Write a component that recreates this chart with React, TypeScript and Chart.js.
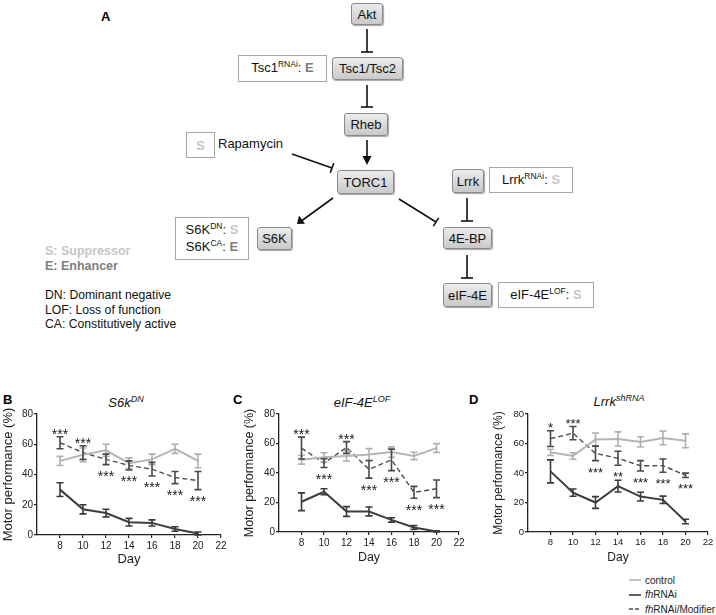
import React, { useEffect, useRef } from 'react';
import { Chart, registerables } from 'chart.js';

Chart.register(...registerables);

const FONT = '"Liberation Sans", Arial, Helvetica, sans-serif';

// ---------- data ----------
const days = [8, 10, 12, 14, 16, 18, 20];
const xTickValues = [8, 10, 12, 14, 16, 18, 20, 22];
const yTickValues = [0, 20, 40, 60, 80];
const seriesNames = ['control', 'fhRNAi', 'fhRNAi/Modifier'];

// Panel B: S6k^DN
const bControl = [49, 53, 56, 47.5, 50, 57, 49];
const bControlErr = [3, 4.5, 4, 3.5, 3.5, 3, 4.5];
const bFh = [30, 17, 14.5, 8.5, 8, 4, 1];
const bFhErr = [4.5, 3, 2.5, 2.5, 2, 1.5, 1];
const bMod = [61, 54.5, 50, 46, 43.5, 38, 36];
const bModErr = [4, 4.5, 3.5, 3, 4.5, 4, 6];
const bStars = ['***', '***', '***', '***', '***', '***', '***'];
const bStarSide = ['above', 'above', 'below', 'below', 'below', 'below', 'below'];

// Panel C: eIF-4E^LOF
const cControl = [49, 50.7, 51.6, 52.5, 54.2, 51.6, 56.9];
const cControlErr = [3, 3, 3.5, 4, 3.5, 2.5, 3];
const cFh = [20.5, 27.3, 13.9, 13.9, 8.2, 3.1, 0.4];
const cFhErr = [6, 2, 3.3, 3, 1.5, 1.3, 0.4];
const cMod = [56.9, 46.7, 57.3, 42.5, 48.9, 26.9, 29.3];
const cModErr = [7.4, 3, 4, 6, 7.3, 4, 6];
const cStars = ['***', '***', '***', '***', '***', '***', '***'];
const cStarSide = ['above', 'below', 'above', 'below', 'below', 'below', 'below'];

// Panel D: Lrrk^shRNA
const dControl = [54, 51.5, 62.7, 63.1, 61.1, 63.8, 61.8];
const dControlErr = [2.1, 2.2, 4.4, 4.8, 3.5, 4.6, 4.7];
const dFh = [41.1, 26.7, 20, 31.1, 24, 21.8, 7.1];
const dFhErr = [7.8, 2.5, 4, 4, 3, 2.5, 1.5];
const dMod = [63.3, 67, 53.3, 50, 44.9, 45, 38.4];
const dModErr = [5.3, 4.5, 4.9, 4.7, 3.5, 4.5, 1.5];
const dStars = ['*', '***', '***', '**', '***', '***', '***'];
const dStarSide = ['above', 'above', 'below', 'below', 'below', 'below', 'below'];

const COLORS = { control: '#b5b5b5', fh: '#3d3d3d', mod: '#4d4d4d' };

// ---------- plugins ----------
const errorBarPlugin = {
  id: 'errorBars',
  afterDatasetsDraw(chart: any) {
    const { ctx, scales } = chart;
    const x = scales.x;
    const y = scales.y;
    chart.data.datasets.forEach((ds: any) => {
      if (!ds.errors) return;
      ctx.save();
      ctx.strokeStyle = ds.errColor;
      ctx.lineWidth = 1.6;
      ctx.setLineDash([]);
      ds.data.forEach((p: any, i: number) => {
        const e = ds.errors[i];
        const px = x.getPixelForValue(p.x);
        const top = y.getPixelForValue(p.y + e);
        const bot = y.getPixelForValue(Math.max(p.y - e, 0));
        ctx.beginPath();
        ctx.moveTo(px, top);
        ctx.lineTo(px, bot);
        ctx.moveTo(px - 3.5, top);
        ctx.lineTo(px + 3.5, top);
        ctx.moveTo(px - 3.5, bot);
        ctx.lineTo(px + 3.5, bot);
        ctx.stroke();
      });
      ctx.restore();
    });
  },
};

const starsPlugin = {
  id: 'stars',
  afterDatasetsDraw(chart: any, _args: any, opts: any) {
    if (!opts || !opts.labels) return;
    const { ctx, scales } = chart;
    const ds = chart.data.datasets[opts.index];
    ctx.save();
    ctx.font = `${opts.size}px ${FONT}`;
    ctx.fillStyle = '#1a1a1a';
    ctx.textAlign = 'center';
    ctx.textBaseline = 'alphabetic';
    opts.labels.forEach((lab: string, i: number) => {
      const p = ds.data[i];
      const e = ds.errors[i];
      const px = scales.x.getPixelForValue(p.x);
      let center;
      if (opts.sides[i] === 'above') center = scales.y.getPixelForValue(p.y + e) - 6;
      else center = scales.y.getPixelForValue(p.y - e) + 8.5;
      ctx.fillText(lab, px, center + 0.57 * opts.size);
    });
    ctx.restore();
  },
};

type PanelProps = {
  left: number; top: number; width: number; height: number;
  padRight: number; padTop: number;
  yAxisWidth: number; xAxisHeight: number;
  tickSize: number; titleSize: number; yTitlePad: number; starSize: number;
  control: number[]; controlErr: number[];
  fh: number[]; fhErr: number[];
  mod: number[]; modErr: number[];
  stars: string[]; starSide: string[];
};

function pts(vals: number[]) {
  return days.map((d, i) => ({ x: d, y: vals[i] }));
}

function ChartPanel(p: PanelProps) {
  const ref = useRef<HTMLCanvasElement>(null);
  useEffect(() => {
    if (!ref.current) return;
    const axisColor = '#222';
    const chart = new Chart(ref.current, {
      type: 'line',
      data: {
        datasets: [
          {
            label: seriesNames[0], data: pts(p.control), borderColor: COLORS.control,
            borderWidth: 2, pointRadius: 0, tension: 0, errors: p.controlErr, errColor: '#b0b0b0',
          } as any,
          {
            label: seriesNames[2], data: pts(p.mod), borderColor: COLORS.mod,
            borderWidth: 1.4, borderDash: [5, 3], pointRadius: 0, tension: 0,
            errors: p.modErr, errColor: '#4a4a4a',
          } as any,
          {
            label: seriesNames[1], data: pts(p.fh), borderColor: COLORS.fh,
            borderWidth: 2, pointRadius: 0, tension: 0, errors: p.fhErr, errColor: '#3a3a3a',
          } as any,
        ],
      },
      options: {
        responsive: false,
        animation: false,
        events: [],
        layout: { padding: { left: 0, top: p.padTop, right: p.padRight, bottom: 0 } },
        plugins: {
          legend: { display: false },
          tooltip: { enabled: false },
          title: { display: false },
          stars: { index: 1, labels: p.stars, sides: p.starSide, size: p.starSize },
        } as any,
        scales: {
          x: {
            type: 'linear', min: 6, max: 22,
            afterBuildTicks: (axis: any) => { axis.ticks = xTickValues.map((v) => ({ value: v })); },
            afterFit: (s: any) => { s.height = p.xAxisHeight; },
            border: { display: true, color: axisColor, width: 1.3 },
            grid: { display: true, drawOnChartArea: false, drawTicks: true, tickLength: 3, color: axisColor, lineWidth: 1.2 },
            ticks: { color: '#222', font: { family: FONT, size: p.tickSize }, padding: 2, maxRotation: 0, autoSkip: false },
            title: { display: true, text: 'Day', color: '#222', font: { family: FONT, size: p.titleSize }, padding: 0 },
          },
          y: {
            type: 'linear', min: 0, max: 80,
            afterBuildTicks: (axis: any) => { axis.ticks = yTickValues.map((v) => ({ value: v })); },
            afterFit: (s: any) => { s.width = p.yAxisWidth; },
            border: { display: true, color: axisColor, width: 1.3 },
            grid: { display: true, drawOnChartArea: false, drawTicks: true, tickLength: 3, color: axisColor, lineWidth: 1.2 },
            ticks: { color: '#222', font: { family: FONT, size: p.tickSize }, padding: 1 },
            title: { display: true, text: 'Motor performance (%)', color: '#222', font: { family: FONT, size: p.titleSize }, padding: { top: p.yTitlePad, bottom: 0 } },
          },
        },
      } as any,
      plugins: [errorBarPlugin, starsPlugin],
    });
    return () => chart.destroy();
  }, []);
  return (
    <canvas
      ref={ref}
      width={p.width}
      height={p.height}
      style={{ position: 'absolute', left: p.left, top: p.top, width: p.width, height: p.height }}
    />
  );
}

// ---------- diagram helpers ----------
const T = (x: number, y: number, content: any, style: any = {}) => (
  <div style={{ position: 'absolute', left: x, top: y, whiteSpace: 'nowrap', ...style }}>{content}</div>
);

function GrayBox({ x, y, w, h, text }: { x: number; y: number; w: number; h: number; text: string }) {
  return (
    <div
      style={{
        position: 'absolute', left: x, top: y, width: w, height: h, boxSizing: 'border-box',
        border: '1px solid #8a8a8a', borderRadius: 3,
        background: 'linear-gradient(#ececec, #c9c9c9)',
        boxShadow: '1px 1px 1px rgba(0,0,0,0.35)',
        display: 'flex', alignItems: 'center', justifyContent: 'center',
        fontSize: 13, color: '#111',
      }}
    >
      {text}
    </div>
  );
}

function NoteBox({ x, y, w, h, children }: { x: number; y: number; w: number; h: number; children: any }) {
  return (
    <div
      style={{
        position: 'absolute', left: x, top: y, width: w, height: h, boxSizing: 'border-box',
        border: '1px solid #a8a8a8', background: '#fff',
        display: 'flex', flexDirection: 'column', alignItems: 'center', justifyContent: 'center',
        fontSize: 13, color: '#111', lineHeight: '15px',
      }}
    >
      {children}
    </div>
  );
}

const Sup = ({ t }: { t: string }) => (
  <span style={{ fontSize: 8.5, position: 'relative', top: -5 }}>{t}</span>
);
const S = () => <b style={{ color: '#c6c6c6' }}>S</b>;
const E = () => <b style={{ color: '#7d7d7d' }}>E</b>;

function Diagram() {
  return (
    <>
      {T(101, 9, 'A', { fontWeight: 'bold', fontSize: 13 })}
      <svg width={716} height={340} style={{ position: 'absolute', left: 0, top: 0 }}>
        <g stroke="#111" strokeWidth={1.6} fill="none">
          {/* Akt -| Tsc */}
          <line x1={367} y1={29} x2={367} y2={52} />
          <line x1={361} y1={52} x2={373} y2={52} />
          {/* Tsc -| Rheb */}
          <line x1={367} y1={85} x2={367} y2={107} />
          <line x1={361} y1={107} x2={373} y2={107} />
          {/* Rheb -> TORC1 */}
          <line x1={367} y1={140} x2={367} y2={157} />
          {/* Rapamycin -| TORC1 */}
          <line x1={292} y1={154} x2={332} y2={168} />
          <line x1={330.3} y1={172.7} x2={333.7} y2={163.3} />
          {/* TORC1 -> S6K */}
          <line x1={333} y1={198} x2={302} y2={220.5} />
          {/* TORC1 -| 4E-BP */}
          <line x1={399} y1={199} x2={436} y2={222} />
          <line x1={433.4} y1={226.2} x2={438.6} y2={217.8} />
          {/* Lrrk -| 4E-BP */}
          <line x1={467} y1={198} x2={467} y2={221} />
          <line x1={461} y1={221} x2={473} y2={221} />
          {/* 4E-BP -| eIF-4E */}
          <line x1={467} y1={255} x2={467} y2={278} />
          <line x1={461} y1={278} x2={473} y2={278} />
        </g>
        <polygon points="362.5,156 371.5,156 367,165" fill="#111" />
        <polygon points="297,224 299,215.5 305,223.7" fill="#111" />
      </svg>

      <GrayBox x={351} y={3} w={32} h={22} text="Akt" />
      <GrayBox x={332} y={57} w={71} h={23} text="Tsc1/Tsc2" />
      <GrayBox x={344} y={113} w={44} h={23} text="Rheb" />
      <GrayBox x={337} y={170} w={57} h={24} text="TORC1" />
      <GrayBox x={257} y={227} w={35} h={23} text="S6K" />
      <GrayBox x={452} y={169} w={32} h={24} text="Lrrk" />
      <GrayBox x={443} y={227} w={49} h={22} text="4E-BP" />
      <GrayBox x={443} y={283} w={49} h={24} text="eIF-4E" />

      <NoteBox x={238} y={55} w={89} h={27}>
        <span>Tsc1<Sup t="RNAi" />: <E /></span>
      </NoteBox>
      <NoteBox x={186} y={132} w={29} h={26}>
        <S />
      </NoteBox>
      {T(218, 136, 'Rapamycin', { fontSize: 13, color: '#111' })}
      <NoteBox x={175} y={217} w={74} h={43}>
        <span>S6K<Sup t="DN" />: <S /></span>
        <span>S6K<Sup t="CA" />: <E /></span>
      </NoteBox>
      <NoteBox x={489} y={167} w={84} h={26}>
        <span>Lrrk<Sup t="RNAi" />: <S /></span>
      </NoteBox>
      <NoteBox x={498} y={282} w={96} h={26}>
        <span>eIF-4E<Sup t="LOF" />: <S /></span>
      </NoteBox>

      {T(45, 244, 'S: Suppressor', { fontWeight: 'bold', fontSize: 12.5, color: '#c6c6c6' })}
      {T(45, 259, 'E: Enhancer', { fontWeight: 'bold', fontSize: 12.5, color: '#7d7d7d' })}
      {T(45, 288, 'DN: Dominant negative', { fontSize: 12.2, color: '#111' })}
      {T(45, 303, 'LOF: Loss of function', { fontSize: 12.2, color: '#111' })}
      {T(45, 317, 'CA: Constitutively active', { fontSize: 12.2, color: '#111' })}
    </>
  );
}

function ChartTitle({ cx, y, base, sup }: { cx: number; y: number; base: string; sup: string }) {
  return (
    <div style={{ position: 'absolute', left: cx - 60, top: y, width: 120, textAlign: 'center', fontStyle: 'italic', fontSize: 13, color: '#111', whiteSpace: 'nowrap' }}>
      {base}
      <span style={{ fontSize: 9, position: 'relative', top: -5 }}>{sup}</span>
    </div>
  );
}

function Legend() {
  const items = [
    { label: <span>control</span>, color: COLORS.control, dash: '' },
    { label: <span><i>fh</i>RNAi</span>, color: COLORS.fh, dash: '' },
    { label: <span><i>fh</i>RNAi/Modifier</span>, color: COLORS.mod, dash: '4,2' },
  ];
  return (
    <>
      {items.map((it, i) => (
        <div key={i} style={{ position: 'absolute', left: 628, top: 573 + i * 14.5, height: 14, display: 'flex', alignItems: 'center', fontSize: 10, color: '#222', whiteSpace: 'nowrap' }}>
          <svg width={14} height={6} style={{ marginRight: 3 }}>
            <line x1={1} y1={3} x2={13} y2={3} stroke={it.color} strokeWidth={1.6} strokeDasharray={it.dash || undefined} />
          </svg>
          {it.label}
        </div>
      ))}
    </>
  );
}

export default function App() {
  useEffect(() => {
    document.body.style.margin = '0';
  }, []);
  return (
    <div style={{ position: 'absolute', left: 0, top: 0, width: 716, height: 615, background: '#fff', fontFamily: FONT, overflow: 'hidden' }}>
      <Diagram />

      {T(3, 392, 'B', { fontWeight: 'bold', fontSize: 13 })}
      {T(233, 392, 'C', { fontWeight: 'bold', fontSize: 13 })}
      {T(469, 392, 'D', { fontWeight: 'bold', fontSize: 13 })}

      <ChartTitle cx={126} y={395} base="S6k" sup="DN" />
      <ChartTitle cx={362} y={395} base="eIF-4E" sup="LOF" />
      <ChartTitle cx={619} y={394} base="Lrrk" sup="shRNA" />

      <ChartPanel
        left={0} top={404} width={231} height={163} padRight={10} padTop={10}
        yAxisWidth={37} xAxisHeight={32} tickSize={10} titleSize={13} yTitlePad={1} starSize={14}
        control={bControl} controlErr={bControlErr} fh={bFh} fhErr={bFhErr} mod={bMod} modErr={bModErr}
        stars={bStars} starSide={bStarSide}
      />
      <ChartPanel
        left={241} top={404} width={228} height={161} padRight={10} padTop={10}
        yAxisWidth={38} xAxisHeight={33} tickSize={10} titleSize={12.5} yTitlePad={1} starSize={14}
        control={cControl} controlErr={cControlErr} fh={cFh} fhErr={cFhErr} mod={cMod} modErr={cModErr}
        stars={cStars} starSide={cStarSide}
      />
      <ChartPanel
        left={490} top={404} width={226} height={161} padRight={8} padTop={10}
        yAxisWidth={38} xAxisHeight={33} tickSize={9.5} titleSize={12} yTitlePad={1.3} starSize={13}
        control={dControl} controlErr={dControlErr} fh={dFh} fhErr={dFhErr} mod={dMod} modErr={dModErr}
        stars={dStars} starSide={dStarSide}
      />

      <Legend />
    </div>
  );
}
